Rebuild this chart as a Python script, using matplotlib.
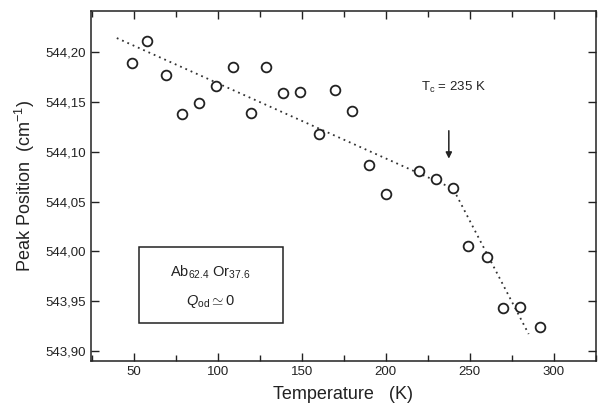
import numpy as np
import matplotlib
matplotlib.use('Agg')
from matplotlib import pyplot as plt
from matplotlib.patches import Rectangle
from matplotlib.ticker import FuncFormatter, MultipleLocator

plt.rcParams['font.family'] = ['Liberation Sans', 'DejaVu Sans']
plt.rcParams['mathtext.fontset'] = 'custom'
plt.rcParams['mathtext.rm'] = 'Liberation Sans'
plt.rcParams['mathtext.it'] = 'Liberation Sans:italic'

# measured peak positions
temp = [49, 58, 69, 79, 89, 99, 109, 120, 129, 139, 149, 160, 170, 180,
        190, 200, 220, 230, 240, 249, 260, 270, 280, 292]
peak = [544.189, 544.211, 544.177, 544.138, 544.149, 544.166, 544.185,
        544.139, 544.185, 544.159, 544.160, 544.118, 544.162, 544.141,
        544.087, 544.058, 544.081, 544.073, 544.064, 544.005, 543.994,
        543.943, 543.944, 543.924]

# dotted guide lines (below / above Tc)
fit_t = [40, 240, 285]
fit_p = [544.214, 544.063, 543.917]

yticks = [543.90, 543.95, 544.00, 544.05, 544.10, 544.15, 544.20]
xticks = [50, 100, 150, 200, 250, 300]

fig = plt.figure(figsize=(6.05, 4.13), dpi=100)
ax = fig.add_axes([0.150, 0.126, 0.835, 0.847])

ax.plot(fit_t, fit_p, linestyle=(0, (1, 2.2)), color='#333333', lw=1.3)
ax.plot(temp, peak, 'o', mfc='white', mec='#222222', ms=7, mew=1.3, zorder=3)

ax.set_xlim(24.5, 325)
ax.set_ylim(543.890, 544.241)
ax.set_xticks(xticks)
ax.set_yticks(yticks)
ax.xaxis.set_minor_locator(MultipleLocator(25))
ax.yaxis.set_major_formatter(FuncFormatter(lambda v, p: ('%.2f' % v).replace('.', ',')))
ax.tick_params(which='both', direction='in', top=True, right=True, labelsize=9.5,
               color='#222222', labelcolor='#222222')
ax.tick_params(which='major', length=6, width=1)
ax.tick_params(which='minor', length=4, width=1)
for s in ax.spines.values():
    s.set_linewidth(1.1)
    s.set_color('#222222')

ax.set_xlabel('Temperature   (K)', fontsize=13, color='#222222', labelpad=6)
ax.set_ylabel(r'Peak Position  (cm$^{-1}$)', fontsize=13, color='#222222', labelpad=6)

# Tc marker
ax.annotate('', xy=(237.5, 544.093), xytext=(237.5, 544.121),
            arrowprops=dict(arrowstyle='-|>', color='#222222', lw=1.1,
                            mutation_scale=9, shrinkA=0, shrinkB=0))
ax.text(240, 544.164, r'T$_{\rm c}$ = 235 K', fontsize=9.5, ha='center', va='center',
        color='#222222')

# composition box
ax.add_patch(Rectangle((53, 543.928), 85.7, 0.076, fill=False, lw=1.1,
                       edgecolor='#222222', zorder=4))
ax.text(95.5, 543.979, r'Ab$_{62.4}$ Or$_{37.6}$', fontsize=10.5, ha='center',
        va='center', color='#222222')
ax.text(95.5, 543.950, r'$Q_{\rm od} \simeq 0$', fontsize=10.5, ha='center',
        va='center', color='#222222')

fig.savefig('out.png', dpi=100)
